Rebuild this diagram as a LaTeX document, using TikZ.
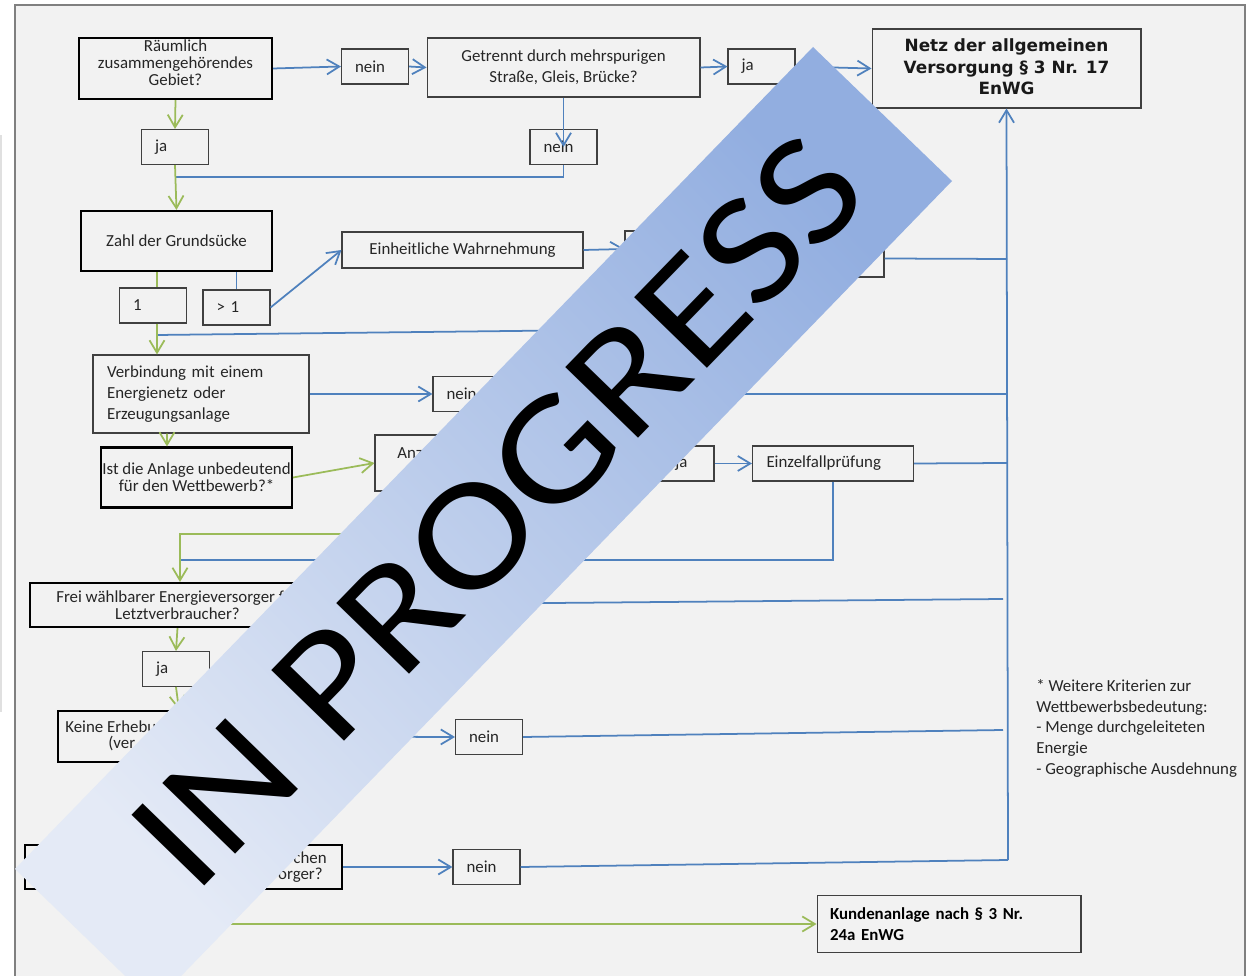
\documentclass[tikz,border=0pt]{standalone}
\usepackage{fontspec}
\setmainfont{Carlito}
\newfontfamily\verdfont{DejaVu Sans}
\usetikzlibrary{arrows.meta,calc}
\definecolor{framegray}{RGB}{242,242,242}
\definecolor{frameline}{RGB}{128,128,128}
\definecolor{flowblue}{RGB}{79,129,189}
\definecolor{flowgreen}{RGB}{155,187,89}
\definecolor{boxline}{RGB}{64,64,64}
\definecolor{txtgray}{RGB}{38,38,38}
\definecolor{bannerlo}{RGB}{228,234,246}
\definecolor{bannerhi}{RGB}{146,174,224}
\newcommand{\diagfont}{\fontsize{9.6}{11.9}\selectfont}
\newcommand{\tightfont}{\fontsize{9.6}{9.8}\selectfont}
\tikzset{
  sz/.style 2 args={minimum width=#1, minimum height=#2},
  tbox/.style={draw=boxline, line width=0.6pt, inner sep=0pt, font=\diagfont,
               text=txtgray, align=center},
  qbox/.style={tbox, draw=black, line width=1.2pt},
  abox/.style={tbox, minimum height=0.7cm, text width=0.8cm, inner xsep=0.27cm,
               align=left},
  frag/.style={inner sep=0pt, font=\diagfont, text=txtgray},
  bline/.style={flowblue, line width=1pt},
  barrow/.style={bline, -{Straight Barb[length=2.5mm, width=3mm]}},
  gline/.style={flowgreen, line width=1pt},
  garrow/.style={gline, -{Straight Barb[length=2.5mm, width=3mm]}},
}

\begin{document}
\begin{tikzpicture}[x=0.02cm, y=-0.02cm]
  \useasboundingbox (0,0) rectangle (1249,976);
  \clip (0,0) rectangle (1249,976);
  \fill[white] (0,0) rectangle (1249,976);
  \fill[black!12] (0,135) rectangle (2.5,712);
  \draw[fill=framegray, draw=frameline, line width=1.2pt] (15,5) rectangle (1245,1000);

  % ---- top row -------------------------------------------------------------
  \node[qbox, sz={3.86cm}{1.22cm}] (raeuml) at (175.5,68.5) {};
  \node[frag, align=center, font=\tightfont] (raeumltxt) at (175.5,62.5)
    {Räumlich\\zusammengehörendes\\Gebiet?};
  \node[abox] (nein1) at (375,66.5) {nein};
  \node[tbox, sz={5.46cm}{1.18cm}] (getr) at (563.5,67.5)
    {Getrennt durch mehrspurigen\\Straße, Gleis, Brücke?};
  \node[abox] (jaG) at (761.5,66.5) {ja};
  \node[tbox, sz={5.38cm}{1.58cm}, text=black!90,
        font=\verdfont\bfseries\fontsize{9.6}{12.2}\selectfont] (netz) at (1006.5,68.5)
    {\raisebox{2pt}{\shortstack{Netz der allgemeinen\\Versorgung § 3 Nr. 17\\EnWG}}};

  \node[abox] (ja1) at (175,147) {ja};
  \node[abox] (nein2) at (563.5,147) {nein};
  \coordinate (j1) at (176,177);

  % ---- plots ---------------------------------------------------------------
  \node[qbox, sz={3.82cm}{1.2cm}] (zahl) at (176.5,241) {Zahl der Grundsücke};
  \node[abox] (eins) at (153,305.5) {1};
  \node[abox] (mehr) at (236.5,307.5) {> 1};
  \node[tbox, sz={4.82cm}{0.72cm}] (einh) at (462.5,250) {Einheitliche Wahrnehmung};
  \node[tbox, sz={1.3cm}{0.72cm}] (hid1) at (657.5,249) {};
  \node[tbox, sz={3.68cm}{0.74cm}] (hid2) at (792,258.5) {};
  \coordinate (e1) at ($(eins.north)+(4,0)$);
  \coordinate (c1) at (600,330);
  \coordinate (j2) at (157,335);

  % ---- connection and competition -----------------------------------------
  \node[tbox, sz={4.32cm}{1.56cm}, text width=3.76cm, inner xsep=0.28cm, align=left]
    (verb) at (201,394) {Verbindung mit einem\\Energienetz oder\\Erzeugungsanlage};
  \node[abox] (nein3) at (466.5,394) {nein};
  \node[qbox, sz={3.82cm}{1.2cm}, font=\tightfont] (ist) at (196.5,477.5)
    {Ist die Anlage unbedeutend\\für den Wettbewerb?*};
  \node[tbox, sz={3.7cm}{1.12cm}] (anz) at (467.5,463) {};
  \node[frag, anchor=west] (anztxt) at (397,453) {Anz};
  \node[abox] (jaE) at (680.5,463.5) {};
  \node[frag, anchor=west] (jaEtxt) at (675,463) {ja};
  \node[tbox, sz={3.22cm}{0.7cm}, text width=2.66cm, inner xsep=0.28cm, align=left]
    (einz) at (833,463.5) {Einzelfallprüfung};
  \coordinate (c2) at (470,534);
  \coordinate (j3) at (180,560);

  % ---- supplier and fees ---------------------------------------------------
  \node[qbox, sz={5.9cm}{0.88cm}, font=\tightfont] (frei) at (177.5,605)
    {Frei wählbarer Energieversorger für\\Letztverbraucher?};
  \node[abox] (ja5) at (176,669) {ja};
  \node[qbox, sz={4.84cm}{1.02cm}] (keine) at (179,736.5) {};
  \node[frag, anchor=west] (keineA) at (65,727) {Keine Erhebu};
  \node[frag, anchor=west] (keineB) at (108,744) {(ver};
  \node[abox] (nein5) at (489,737) {nein};
  \node[qbox, sz={6.34cm}{0.88cm}] (unten) at (183.5,867) {};
  \node[frag, anchor=east] (untenA) at (327,858) {chen};
  \node[frag, anchor=east] (untenB) at (323,875) {orger?};
  \node[abox] (nein6) at (486.5,867) {nein};
  \node[tbox, sz={5.28cm}{1.14cm}, text width=4.76cm, inner xsep=0.26cm, align=left,
        font=\bfseries\diagfont, text=black] (kunden) at (949,924)
    {Kundenanlage nach § 3 Nr.\\24a EnWG};
  \node[anchor=north west, align=left, inner sep=0pt, text=txtgray,
        font=\fontsize{9.6}{11.8}\selectfont] (fussnote) at (1036,679)
    {* Weitere Kriterien zur\\Wettbewerbsbedeutung:\\- Menge durchgeleiteten\\Energie\\- Geographische Ausdehnung};

  % ---- trunk to the network box --------------------------------------------
  \coordinate (t1) at (1007,259);
  \coordinate (t2) at (1007,394);
  \coordinate (t3) at (1007,463);
  \coordinate (t4) at (1003,599);
  \coordinate (t5) at (1003,730);
  \coordinate (t6) at (1008,860);

  % blue connectors
  \draw[barrow] (raeuml.east) -- (nein1.west);
  \draw[barrow] (nein1.east) -- (getr.west);
  \draw[barrow] (getr.east) -- (jaG.west);
  \draw[barrow] (jaG.east) -- (netz.west);
  \draw[barrow] (getr.south) -- (nein2.center);
  \draw[bline] (nein2.south) |- (j1);
  \draw[bline] (mehr.north |- zahl.south) -- (mehr.north);
  \draw[barrow] (mehr.east) -- (einh.west);
  \draw[barrow] (einh.east) -- (hid1.west);
  \draw[bline] (hid2.east) -- (t1);
  \draw[bline] (c1) -- (j2);
  \draw[barrow] (verb.east) -- (nein3.west);
  \draw[bline] (nein3.east) -- (t2);
  \draw[barrow] (jaE.east) -- (einz.west);
  \draw[bline] (einz.east) -- (t3);
  \draw[bline] (einz.south) |- (j3);
  \draw[bline] (frei.east) -- (t4);
  \draw[barrow] (keine.east) -- (nein5.west);
  \draw[bline] (nein5.east) -- (t5);
  \draw[barrow] (unten.east) -- (nein6.west);
  \draw[bline] (nein6.east) -- (t6);
  \draw[barrow] (t6) -- (netz.south);

  % green connectors
  \draw[garrow] (raeuml.south) -- (ja1.north);
  \draw[garrow] (ja1.south) -- (zahl.north);
  \draw[gline] (e1 |- zahl.south) -- (e1);
  \draw[garrow] (e1 |- eins.south) -- (e1 |- verb.north);
  \draw[garrow] ([xshift=-0.68cm]verb.south) -- ([xshift=-0.59cm]ist.north);
  \draw[garrow] (ist.east) -- (anz.west);
  \draw[garrow] (c2) -| ([xshift=0.05cm]frei.north);
  \draw[garrow] (frei.south) -- (ja5.north);
  \draw[garrow] (ja5.south) -- (keine.north);
  \draw[garrow] (unten.south) |- (kunden.west);

  % ---- the stamp ------------------------------------------------------------
  \shade[bottom color=bannerlo, top color=bannerhi, shading angle=-46]
    (813,47) -- (952,181) -- (154,1004) -- (15,869) -- cycle;
  \node[rotate=45.85, inner sep=0pt, font=\fontsize{90}{90}\selectfont] (stamp)
    at (497.5,511) {\scalebox{1.14}[1]{IN PROGRESS}};
\end{tikzpicture}
\end{document}
